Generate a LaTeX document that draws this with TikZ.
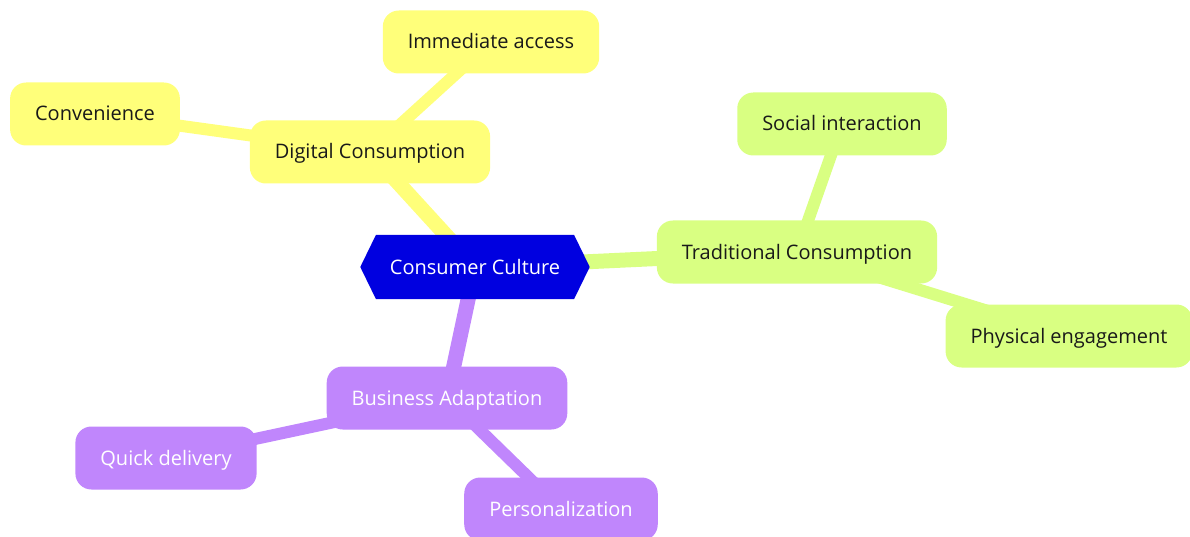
\documentclass[tikz,border=0pt]{standalone}
\usepackage{fontspec}
\setmainfont{Open Sans}
\usetikzlibrary{shapes.symbols,backgrounds}
\definecolor{digi}{RGB}{255,255,122}
\definecolor{trad}{RGB}{217,255,130}
\definecolor{biz}{RGB}{192,134,252}
\definecolor{core}{RGB}{0,0,224}
\definecolor{ink}{RGB}{25,25,25}
\begin{document}
\begin{tikzpicture}[x=1pt,y=-1pt,
  every node/.style={font=\fontsize{20}{24}\selectfont},
  topic/.style={rounded corners=16pt, minimum height=63pt, inner xsep=25pt, text height=16pt, text depth=2pt},
  digibox/.style={topic, fill=digi, text=ink},
  tradbox/.style={topic, fill=trad, text=ink},
  bizbox/.style={topic, fill=biz, text=white},
  rootbox/.style={signal, signal to=west and east, signal pointer angle=128, fill=core, text=white,
    minimum height=64pt, inner xsep=14pt, text height=16pt, text depth=2pt},
  branch/.style={line width=15pt},
  twig/.style={line width=12pt}]
\useasboundingbox (0,0) rectangle (1190,537);

% central topic and its three branches
\node[rootbox] (cc) at (475,267) {Consumer Culture};
\node[digibox] (dig) at (370,152) {Digital Consumption};
\node[digibox] (imm) at (491,42) {Immediate access};
\node[digibox] (conv) at (95,114) {Convenience};
\node[tradbox] (tra) at (797,252) {Traditional Consumption};
\node[tradbox] (soc) at (842,124) {Social interaction};
\node[tradbox] (phy) at (1069,336) {Physical engagement};
\node[bizbox] (biz) at (447,398) {Business Adaptation};
\node[bizbox] (qd) at (166,458) {Quick delivery};
\node[bizbox] (pers) at (561,509) {Personalization};

% connectors run behind the boxes
\begin{scope}[on background layer]
  \draw[branch, digi] (cc.center) -- (dig.center);
  \draw[branch, trad] (cc.center) -- (tra.center);
  \draw[branch, biz] (cc.center) -- (biz.center);
  \draw[twig, digi] (dig.center) -- (imm.center);
  \draw[twig, digi] (dig.center) -- (conv.center);
  \draw[twig, trad] (tra.center) -- (soc.center);
  \draw[twig, trad] (tra.center) -- (phy.center);
  \draw[twig, biz] (biz.center) -- (qd.center);
  \draw[twig, biz] (biz.center) -- (pers.center);
\end{scope}
\end{tikzpicture}
\end{document}
